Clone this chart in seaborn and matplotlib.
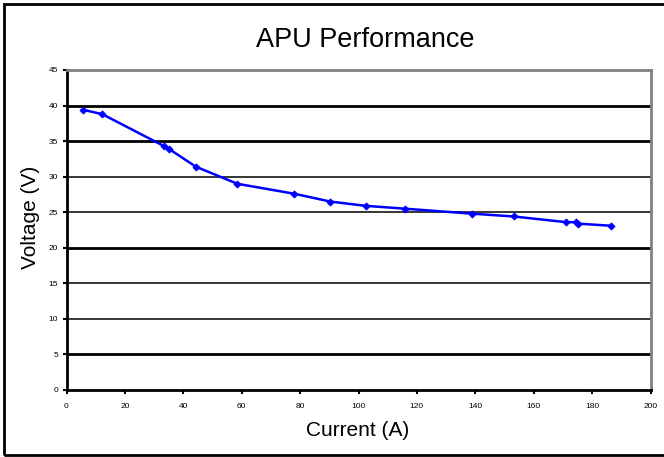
import matplotlib
matplotlib.use("Agg")
import matplotlib.pyplot as plt
import seaborn as sns
import pandas as pd
from matplotlib.patches import Rectangle

current = [5.7, 12.2, 33.4, 35.1, 44.3, 58.5, 78.0, 90.3, 102.4, 115.8, 138.8, 153.2, 171.2, 174.5, 175.0, 186.4]
voltage = [39.4, 38.8, 34.3, 33.9, 31.4, 29.0, 27.6, 26.5, 25.9, 25.5, 24.8, 24.4, 23.6, 23.6, 23.4, 23.1]
x_ticks = [0, 20, 40, 60, 80, 100, 120, 140, 160, 180, 200]
y_ticks = [0, 5, 10, 15, 20, 25, 30, 35, 40, 45]

sns.set_style("white")
plt.rcParams['font.family'] = ['Liberation Sans', 'DejaVu Sans']
plt.rcParams['text.color'] = 'black'
plt.rcParams['xtick.color'] = 'black'
plt.rcParams['ytick.color'] = 'black'
plt.rcParams['axes.labelcolor'] = 'black'

df = pd.DataFrame({"Current (A)": current, "Voltage (V)": voltage})

W, H = 664, 457
fig = plt.figure(figsize=(W / 100, H / 100), dpi=100)
ax = fig.add_axes([66.5 / W, 1 - 390 / H, (650.5 - 66.5) / W, (390 - 70) / H])

# Gridlines (drawn behind data)
thick = {40, 35, 20, 5}
for yv in y_ticks[1:-1]:
    ax.axhline(yv, color="black", lw=2.0 if yv in thick else 1.1, zorder=1)

sns.lineplot(data=df, x="Current (A)", y="Voltage (V)", ax=ax, color="#0000FF",
             lw=1.8, marker="D", markersize=3.5, markeredgecolor="#0000FF",
             sort=False, zorder=3)

ax.set_xlim(0, 200)
ax.set_ylim(0, 45)
ax.set_xticks(x_ticks)
ax.set_yticks(y_ticks)
ax.set_xticklabels([str(v) for v in x_ticks], fontsize=6, color="black")
ax.set_yticklabels([str(v) for v in y_ticks], fontsize=6, color="black")
ax.tick_params(axis="both", direction="out", length=3, width=1.5, color="black",
               labelcolor="black", pad=3, bottom=True, left=True)
ax.tick_params(axis="x", pad=6)

for s in ["left", "bottom"]:
    ax.spines[s].set_color("black")
    ax.spines[s].set_linewidth(2.0)
for s in ["top", "right"]:
    ax.spines[s].set_color("#808080")
    ax.spines[s].set_linewidth(2.0)

ax.set_xlabel("")
ax.set_ylabel("")
fig.text(358 / W, 1 - 430 / H, "Current (A)", fontsize=15, ha="center", va="center", color="black")
fig.text(31 / W, 1 - 217 / H, "Voltage (V)", fontsize=15, ha="center", va="center", rotation=90, color="black")
fig.text(365 / W, 1 - 40 / H, "APU Performance", fontsize=19.5, ha="center", va="center", color="black")

# outer chart border (right side cropped off)
fig.patches.append(Rectangle((4 / W, 1 - 455 / H), 700 / W, 451 / H, transform=fig.transFigure,
                             fill=False, edgecolor="black", lw=2.0))

fig.savefig("out.png", dpi=100)
